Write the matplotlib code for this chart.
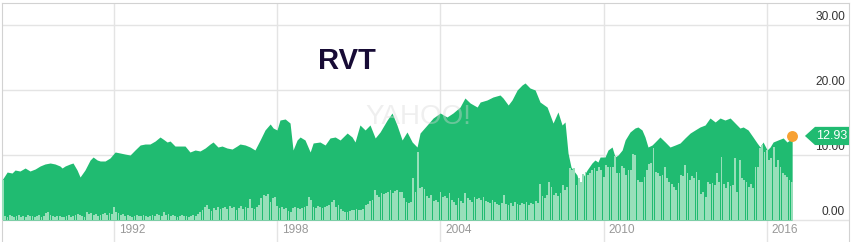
import numpy as np
import matplotlib.pyplot as plt
from matplotlib.patches import Polygon

plt.rcParams['font.family'] = ['Liberation Sans', 'DejaVu Sans']

# monthly close of RVT (decimal year, price)
price_dates = [
    1987.88, 1988.07, 1988.25, 1988.36, 1988.54, 1988.73, 1988.91, 1989.10, 1989.28, 1989.46,
    1989.65, 1989.83, 1990.01, 1990.09, 1990.20, 1990.38, 1990.49, 1990.64, 1990.75, 1990.93,
    1991.12, 1991.23, 1991.38, 1991.49, 1991.67, 1991.85, 1992.04, 1992.22, 1992.40, 1992.59,
    1992.77, 1992.96, 1993.14, 1993.32, 1993.51, 1993.69, 1993.80, 1993.95, 1994.06, 1994.24,
    1994.43, 1994.61, 1994.79, 1994.98, 1995.16, 1995.35, 1995.53, 1995.64, 1995.82, 1995.97,
    1996.15, 1996.34, 1996.52, 1996.63, 1996.82, 1997.00, 1997.18, 1997.37, 1997.55, 1997.74,
    1997.85, 1997.99, 1998.10, 1998.29, 1998.47, 1998.58, 1998.73, 1998.84, 1999.02, 1999.21,
    1999.32, 1999.57, 1999.76, 1999.94, 2000.13, 2000.31, 2000.57, 2000.75, 2000.86, 2001.04,
    2001.23, 2001.41, 2001.60, 2001.78, 2002.04, 2002.22, 2002.40, 2002.59, 2002.77, 2002.96,
    2003.14, 2003.25, 2003.51, 2003.73, 2003.99, 2004.24, 2004.46, 2004.72, 2004.90, 2005.09,
    2005.35, 2005.46, 2005.71, 2005.93, 2006.19, 2006.30, 2006.49, 2006.63, 2006.82, 2007.00,
    2007.11, 2007.29, 2007.48, 2007.66, 2007.92, 2008.14, 2008.32, 2008.47, 2008.58, 2008.69,
    2008.80, 2008.88, 2009.02, 2009.13, 2009.24, 2009.39, 2009.57, 2009.68, 2009.79, 2009.87,
    2010.05, 2010.16, 2010.31, 2010.42, 2010.53, 2010.68, 2010.79, 2010.97, 2011.15, 2011.26,
    2011.41, 2011.52, 2011.63, 2011.78, 2011.89, 2012.07, 2012.26, 2012.44, 2012.63, 2012.81,
    2012.99, 2013.18, 2013.36, 2013.54, 2013.73, 2013.91, 2014.10, 2014.28, 2014.46, 2014.65,
    2014.83, 2015.01, 2015.13, 2015.31, 2015.49, 2015.64, 2015.75, 2015.86, 2016.01, 2016.12,
    2016.23, 2016.41, 2016.60, 2016.74, 2016.85, 2016.93,
]
price_values = [
    6.15, 7.38, 7.23, 7.69, 7.54, 8.00, 7.54, 7.85, 8.31, 8.62,
    8.77, 8.62, 8.31, 8.00, 8.31, 8.62, 8.77, 7.69, 6.62, 7.69,
    9.23, 9.69, 9.23, 9.08, 9.08, 9.54, 10.46, 10.31, 10.15, 10.00,
    10.77, 11.54, 11.69, 11.69, 12.15, 12.77, 12.46, 12.00, 12.15, 11.38,
    11.38, 11.38, 10.46, 10.77, 10.62, 11.08, 11.69, 12.00, 11.23, 11.38,
    11.08, 10.92, 11.38, 11.69, 11.54, 11.23, 10.77, 12.31, 13.85, 14.77,
    14.15, 13.85, 15.38, 15.54, 14.92, 10.77, 12.31, 12.77, 12.31, 10.46,
    11.85, 12.00, 11.54, 12.62, 12.77, 12.31, 13.38, 12.77, 12.00, 14.62,
    13.85, 14.62, 12.62, 13.54, 15.38, 16.46, 14.62, 12.31, 13.54, 12.00,
    11.23, 13.38, 14.62, 15.69, 16.46, 15.85, 16.46, 17.38, 18.77, 18.00,
    17.38, 18.15, 18.46, 18.92, 19.23, 18.77, 17.69, 18.46, 20.00, 20.77,
    21.08, 20.31, 20.00, 18.15, 17.38, 14.92, 16.62, 14.62, 15.08, 10.31,
    8.15, 7.69, 6.92, 5.08, 6.62, 7.69, 8.77, 9.23, 8.92, 9.69,
    9.69, 10.77, 11.23, 9.69, 10.00, 10.77, 12.31, 13.54, 14.15, 14.31,
    13.85, 12.77, 11.23, 11.54, 12.00, 12.77, 12.00, 11.23, 11.54, 11.85,
    12.62, 13.38, 13.85, 14.31, 14.62, 15.69, 15.08, 15.69, 15.38, 15.69,
    14.92, 14.15, 14.31, 13.85, 12.77, 11.85, 11.23, 12.00, 10.77, 11.23,
    12.00, 12.31, 12.62, 12.00, 12.31, 12.93,
]

# monthly volume (millions of shares), Dec 1987 .. Dec 2016
volume_start = 1987 + 11 / 12
volume = [4.0] + [v / 10 for v in [
    4, 3, 5, 4, 3, 4, 5, 3, 4, 3, 5, 4,            # 1988
    4, 3, 4, 5, 3, 4, 7, 8, 5, 4, 3, 4,            # 1989
    4, 3, 3, 4, 5, 3, 4, 5, 6, 5, 4, 3,            # 1990
    8, 6, 7, 5, 6, 4, 5, 6, 7, 5, 7, 6,            # 1991
    13, 8, 7, 5, 6, 4, 5, 4, 3, 4, 5, 4,           # 1992
    4, 5, 4, 3, 4, 5, 4, 6, 5, 4, 8, 5,            # 1993
    6, 4, 5, 4, 3, 4, 5, 4, 4, 3, 4, 5,            # 1994
    4, 6, 8, 10, 13, 15, 11, 9, 12, 10, 13, 11,    # 1995
    12, 13, 11, 14, 12, 13, 10, 12, 14, 11, 13, 12,  # 1996
    21, 12, 11, 13, 15, 22, 25, 24, 26, 18, 22, 23,  # 1997
    14, 12, 13, 11, 12, 9, 8, 12, 13, 12, 11, 12,   # 1998
    13, 14, 23, 20, 13, 12, 14, 13, 12, 13, 14, 15,  # 1999
    18, 20, 13, 15, 11, 9, 8, 8, 9, 10, 10, 11,      # 2000
    10, 10, 11, 15, 16, 19, 20, 30, 25, 23, 27, 26,  # 2001
    27, 28, 30, 27, 29, 30, 28, 28, 22, 18, 17, 18,  # 2002
    42, 28, 68, 32, 33, 31, 24, 22, 25, 19, 20, 18,  # 2003
    28, 23, 24, 22, 27, 20, 18, 15, 22, 19, 17, 27,  # 2004
    22, 20, 18, 23, 21, 22, 20, 23, 19, 18, 17, 20,  # 2005
    18, 16, 15, 17, 25, 16, 15, 17, 14, 18, 16, 15,  # 2006
    17, 16, 18, 15, 17, 16, 19, 17, 36, 24, 22, 25,  # 2007
    38, 33, 25, 27, 24, 27, 35, 30, 33, 52, 50, 52,  # 2008
    35, 42, 38, 46, 48, 45, 47, 50, 52, 49, 53, 50,  # 2009
    43, 55, 53, 53, 53, 64, 47, 47, 54, 52, 45, 50,  # 2010
    50, 66, 65, 40, 38, 38, 43, 50, 56, 57, 72, 48,  # 2011
    47, 44, 45, 53, 42, 38, 36, 33, 30, 37, 45, 44,  # 2012
    55, 47, 40, 44, 42, 48, 40, 26, 28, 23, 38, 36,  # 2013
    37, 35, 47, 38, 63, 36, 32, 38, 34, 35, 62, 28,  # 2014
    60, 42, 40, 38, 33, 36, 32, 53, 53, 72, 75, 68,  # 2015
    70, 60, 62, 73, 53, 60, 53, 47, 45, 43, 40, 38,  # 2016
]]
volume_dates = volume_start + np.arange(len(volume)) / 12

y_ticks = [0, 10, 20, 30]
y_labels = ["0.00", "10.00", "20.00", "30.00"]
x_ticks = [1992, 1998, 2004, 2010, 2016]
x_labels = ["1992", "1998", "2004", "2010", "2016"]
ticker = "RVT"

green = "#20bb71"

fig = plt.figure(figsize=(8.52, 2.42), dpi=100)
ax = fig.add_axes([2 / 852, 0, 847 / 852, 239 / 242])
ax.set_xlim(1987.88, 2019.02)
ax.set_ylim(-3.38, 33.38)
ax.set_xticks(x_ticks)
ax.set_yticks(y_ticks)
ax.tick_params(length=0, labelleft=False, labelbottom=False)
ax.grid(True, color="#e4e4e4", lw=1)
ax.set_axisbelow(True)
for s in ["top", "left", "right"]:
    ax.spines[s].set_color("#d2d2d2")
ax.spines["bottom"].set_visible(False)

ax.fill_between(price_dates, price_values, 0, color=green, lw=0, zorder=2)

# volume on its own scale, drawn over the price area
vax = ax.twinx()
vax.set_ylim(-2.2, 21.7)
vax.axis("off")
vax.bar(volume_dates, volume, width=0.066, color="#98dfba", lw=0, zorder=3)

T = ax.transData
# faint watermark
vax.text(2003.2, 15.9, "YAHOO!", transform=T, fontsize=20, color="#d8d8d8",
         alpha=0.4, ha="center", va="center", zorder=4)

# ticker title
vax.text(2000.57, 24.46, ticker, transform=T, fontsize=21, fontweight="bold",
         color="#170b35", ha="center", va="center", zorder=5)

# axis labels
for v, lab in zip(y_ticks, y_labels):
    vax.text(2018.87, v + 1.25, lab, transform=T, fontsize=8.6, color="#333333",
             ha="right", va="center", zorder=5)
for yr, lab in zip(x_ticks, x_labels):
    vax.text(yr + 0.17, -1.6, lab, transform=T, fontsize=8.6, color="#999999",
             ha="left", va="center", zorder=5)

# last price marker + flag
last_x, last_y = price_dates[-1], price_values[-1]
vax.scatter([last_x], [last_y], s=62, color="#f7a133", lw=0, zorder=6, transform=T)
tip = 2017.40
box_l, box_r = 2017.77, 2019.05
h = 1.4
flag = Polygon([[tip, last_y], [box_l, last_y + h], [box_r, last_y + h],
                [box_r, last_y - h], [box_l, last_y - h]],
               closed=True, color=green, lw=0, zorder=6, transform=T)
vax.add_patch(flag)
vax.text((box_l + box_r) / 2 - 0.02, last_y, f"{last_y:.2f}", transform=T, fontsize=9,
         color="white", ha="center", va="center", zorder=7)

fig.savefig("out.png", dpi=100)
